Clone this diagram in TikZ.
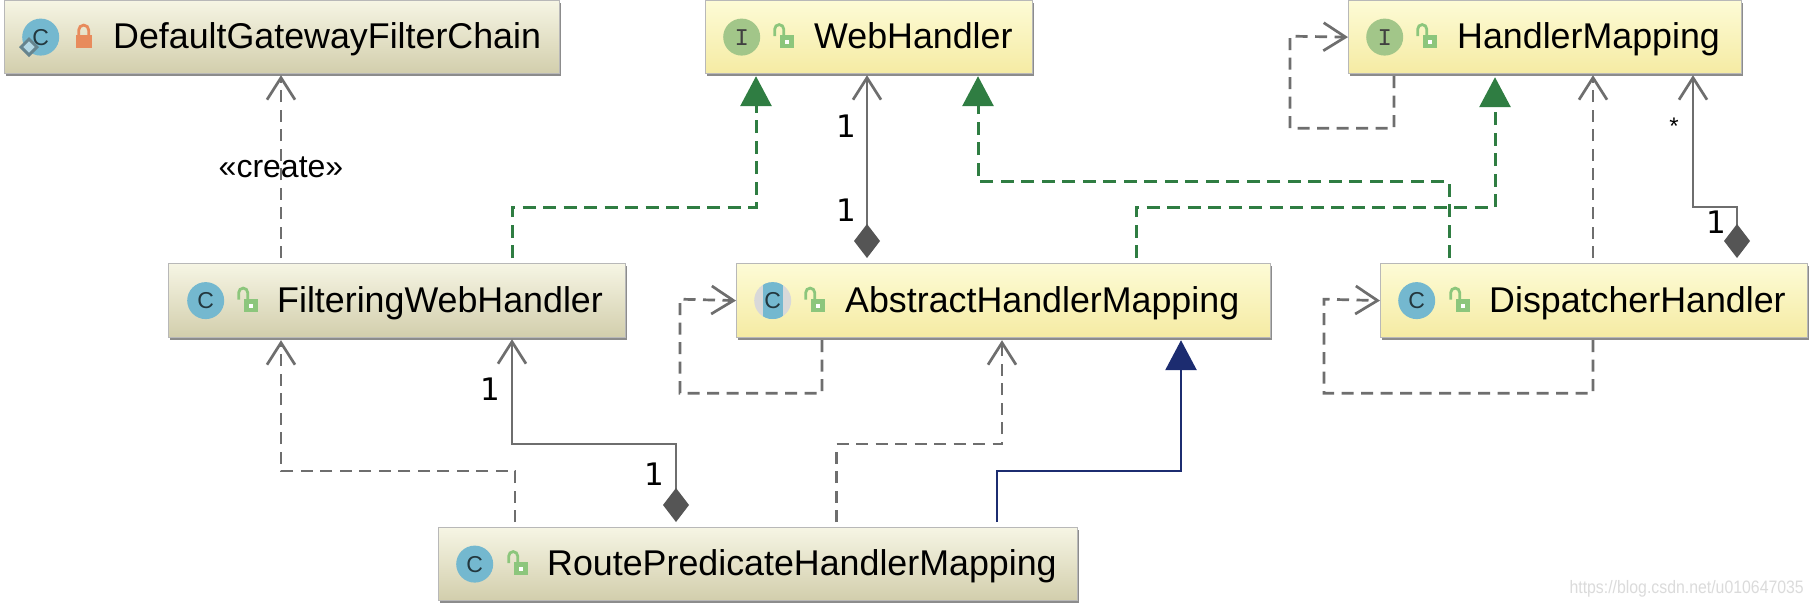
\documentclass[tikz,border=0pt]{standalone}
\usepackage{fontspec}
\setmainfont{Liberation Sans}
\newfontfamily\digitfont{DejaVu Sans}
\newfontfamily\letterfont{Liberation Mono}
\newfontfamily\markfont[FakeStretch=0.88]{Liberation Sans}
\usetikzlibrary{arrows.meta,positioning,shadows,shapes.geometric}

\definecolor{arrowgray}{HTML}{6E6E6E}
\definecolor{diamondgray}{HTML}{555555}
\definecolor{realizegreen}{HTML}{2F7D42}
\definecolor{extendblue}{HTML}{1C2C70}
\definecolor{classblue}{HTML}{74B8CF}
\definecolor{ifacegreen}{HTML}{A2C689}
\definecolor{lockgreen}{HTML}{8CC67C}
\definecolor{lockorange}{HTML}{E88B5C}
\definecolor{yellowtop}{HTML}{FDFBD6}
\definecolor{yellowbottom}{HTML}{F5EBA3}
\definecolor{olivetop}{HTML}{F6F5E4}
\definecolor{olivebottom}{HTML}{D2CEAC}

\tikzset{
	x=1pt, y=-1pt,
	umlbox/.style={anchor=north west, inner sep=0pt, draw=black!28, line width=1.2pt,
		drop shadow={shadow xshift=1.5pt, shadow yshift=-2.5pt, fill=black!45, opacity=1}},
	yellowbox/.style={umlbox, top color=yellowtop, bottom color=yellowbottom},
	olivebox/.style={umlbox, top color=olivetop, bottom color=olivebottom},
	classname/.style={inner sep=0pt, text height=24pt, text depth=1pt, font=\fontsize{35.8}{40}\selectfont},
	classicon/.style={circle, inner sep=0pt, minimum size=37pt, fill=classblue, text=black!70!classblue, font=\fontsize{23}{24}\selectfont},
	ifaceicon/.style={circle, inner sep=0pt, minimum size=37pt, fill=ifacegreen, text=black!75, font=\fontsize{24}{24}\letterfont},
	abstracticon/.style={classicon, fill=black!15, path picture={
		\fill [classblue] ([xshift=-10pt]path picture bounding box.north) rectangle ([xshift=10pt]path picture bounding box.south);}},
	openlock/.pic={
		\draw [lockgreen, line width=2.8pt] (-9,-1) -- (-9,-8) arc [start angle=180, end angle=0, x radius=4.5pt, y radius=4.5pt] -- (0,-1);
		\fill [lockgreen] (-4,-2) rectangle (10,11);
		\fill [white] (1,3) rectangle (5,7);
	},
	closedlock/.pic={
		\draw [lockorange, line width=2.8pt] (-5,-1) -- (-5,-7) arc [start angle=180, end angle=0, x radius=5pt, y radius=5pt] -- (5,-1);
		\fill [lockorange] (-8,-2) rectangle (8,11);
	},
	dep/.style={draw=arrowgray, line width=2.7pt, dash pattern=on 12pt off 7.5pt, -{Straight Barb[length=22pt,width=28pt,line width=2.7pt]}},
	assoc/.style={draw=arrowgray, line width=2.7pt, {Diamond[length=34pt,width=26pt,fill=diamondgray,color=diamondgray]}-{Straight Barb[length=22pt,width=28pt,line width=2.7pt]}},
	realize/.style={draw=realizegreen, line width=3pt, dash pattern=on 13pt off 7.5pt, -{Triangle[length=30pt,width=31pt]}},
	extend/.style={draw=extendblue, line width=2.8pt, -{Triangle[length=30pt,width=31pt]}},
	multi/.style={inner sep=0pt, font=\fontsize{31}{31}\digitfont},
}

\begin{document}
\begin{tikzpicture}
	\useasboundingbox [fill=white] (0,0) rectangle (1814,608);

	% class boxes
	\node (chain) [olivebox, minimum width=555pt, minimum height=73pt] at (4,0) {};
	\node (web) [yellowbox, minimum width=327pt, minimum height=73pt] at (705,0) {};
	\node (mapping) [yellowbox, minimum width=393pt, minimum height=73pt] at (1348,0) {};
	\node (filtering) [olivebox, minimum width=457pt, minimum height=74pt] at (168,263) {};
	\node (abstract) [yellowbox, minimum width=534pt, minimum height=74pt] at (736,263) {};
	\node (dispatcher) [yellowbox, minimum width=427pt, minimum height=74pt] at (1380,263) {};
	\node (route) [olivebox, minimum width=639pt, minimum height=73pt] at (438,527) {};

	% icons
	\node (chainIcon) [classicon, right=18pt of chain.west] {C};
	\node (chainBadge) [diamond, inner sep=0pt, minimum size=17pt, fill=classblue!55!white, draw=black!45!classblue!80!white, line width=3pt] at (29,47) {};
	\path (chainIcon.center) ++(43,0) pic {closedlock};
	\node (webIcon) [ifaceicon, right=18pt of web.west] {I};
	\path (webIcon.center) ++(42,0) pic {openlock};
	\node (mappingIcon) [ifaceicon, right=18pt of mapping.west] {I};
	\path (mappingIcon.center) ++(42,0) pic {openlock};
	\node (filteringIcon) [classicon, right=19pt of filtering.west] {C};
	\path (filteringIcon.center) ++(42,0) pic {openlock};
	\node (abstractIcon) [abstracticon, right=18pt of abstract.west] {C};
	\path (abstractIcon.center) ++(42,0) pic {openlock};
	\node (dispatcherIcon) [classicon, right=18pt of dispatcher.west] {C};
	\path (dispatcherIcon.center) ++(43,0) pic {openlock};
	\node (routeIcon) [classicon, right=18pt of route.west] {C};
	\path (routeIcon.center) ++(43,0) pic {openlock};

	% names
	\node (chainName) [classname, right=109pt of chain.west] {DefaultGatewayFilterChain};
	\node (webName) [classname, right=109pt of web.west] {WebHandler};
	\node (mappingName) [classname, right=109pt of mapping.west] {HandlerMapping};
	\node (filteringName) [classname, right=109pt of filtering.west] {FilteringWebHandler};
	\node (abstractName) [classname, right=109pt of abstract.west] {AbstractHandlerMapping};
	\node (dispatcherName) [classname, right=109pt of dispatcher.west] {DispatcherHandler};
	\node (routeName) [classname, right=109pt of route.west] {RoutePredicateHandlerMapping};

	% dependencies
	\draw [dep] ([xshift=113pt,yshift=5pt]filtering.north west) -- ([xshift=277pt,yshift=-1pt]chain.south west);
	\draw [dep] ([xshift=77pt,yshift=5pt]route.north west) -- ++(0,-51) -| ([xshift=113pt,yshift=-2pt]filtering.south west);
	\draw [dep] ([xshift=398.5pt,yshift=5pt]route.north west) -- ++(0,-78) -| ([xshift=266pt,yshift=-2pt]abstract.south west);
	\draw [dep] ([xshift=213pt,yshift=5pt]dispatcher.north west) -- ([xshift=245pt,yshift=-1pt]mapping.south west);
	\draw [dep] ([xshift=46pt,yshift=-2pt]mapping.south west) -- ++(0,52) -| ++(-104,-92) -- (mapping.west);
	\draw [dep] ([xshift=86pt,yshift=-2pt]abstract.south west) -- ++(0,53) -| ++(-142,-94) -- (abstract.west);
	\draw [dep] ([xshift=213pt,yshift=-2pt]dispatcher.south west) -- ++(0,53) -| ++(-269,-94) -- (dispatcher.west);

	% realizations
	\draw [realize] ([xshift=344pt,yshift=5pt]filtering.north west) -- ++(0,-51) -| ([xshift=51pt,yshift=-2pt]web.south west);
	\draw [realize] ([xshift=69pt,yshift=5pt]dispatcher.north west) -- ++(0,-77) -| ([xshift=273pt,yshift=-2pt]web.south west);
	\draw [realize] ([xshift=400pt,yshift=5pt]abstract.north west) -- ++(0,-51) -| ([xshift=147pt,yshift=-3pt]mapping.south west);
	\draw [extend] ([xshift=559pt,yshift=5pt]route.north west) -- ++(0,-51) -| ([xshift=445pt,yshift=-2pt]abstract.south west);

	% associations with their diamonds
	\draw [assoc] ([xshift=131pt,yshift=5pt]abstract.north west) -- ([xshift=162pt,yshift=-1pt]web.south west);
	\draw [assoc] ([xshift=357pt,yshift=5pt]dispatcher.north west) -- ++(0,-51) -| ([xshift=345pt,yshift=-1pt]mapping.south west);
	\draw [assoc] ([xshift=238pt,yshift=5pt]route.north west) -- ++(0,-78) -| ([xshift=344pt,yshift=-1pt]filtering.south west);

	% multiplicities
	\node (webOne) [multi] at (846,126) {1};
	\node (abstractOne) [multi] at (846,210) {1};
	\node (mappingStar) [inner sep=0pt, font=\fontsize{24}{24}\selectfont] at (1674,126) {*};
	\node (dispatcherOne) [multi] at (1716,222) {1};
	\node (filteringOne) [multi] at (490,389) {1};
	\node (routeOne) [multi] at (654,474) {1};

	\node (createLabel) [inner sep=0pt, font=\fontsize{32}{32}\selectfont] at (281,167) {«create»};
	\node (siteMark) [anchor=east, inner sep=0pt, text=black!14, font=\fontsize{18}{18}\markfont] at (1804,589) {https://blog.csdn.net/u010647035};
\end{tikzpicture}
\end{document}
